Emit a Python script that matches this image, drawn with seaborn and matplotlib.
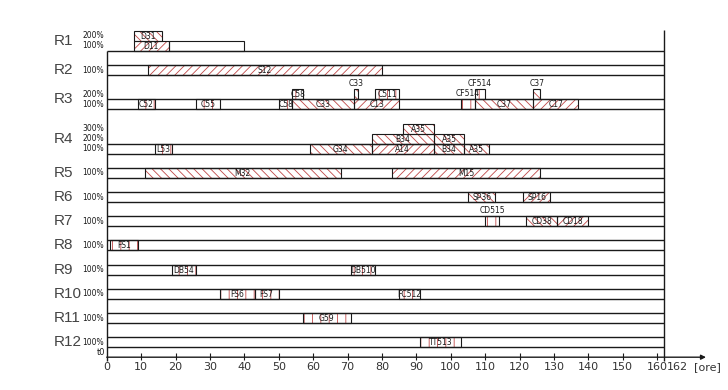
import numpy as np
import pandas as pd
import matplotlib
matplotlib.use("Agg")
import matplotlib.pyplot as plt
import seaborn as sns

# ── data ─────────────────────────────────────────────────────
# resources and how many load levels (100%, 200%, 300%) each one shows
resources = ['R1', 'R2', 'R3', 'R4', 'R5', 'R6',
             'R7', 'R8', 'R9', 'R10', 'R11', 'R12']
resource_levels = [2, 1, 2, 3, 1, 1, 1, 1, 1, 1, 1, 1]

# one entry per activity block
task_names = ['D31', 'D11', '', 'S12',
              'C52', 'C55', 'C58', 'C58', 'C33', 'C33', 'C13', 'C511',
              'CF514', 'CF514', 'C37', 'C37', 'C17',
              'L53', 'G34', 'A14', 'B34', 'A35', 'B34', 'A35', 'A35',
              'M32', 'M15', 'SP36', 'SP16', 'CD515', 'CD38', 'CD18',
              'FS1', 'DB54', 'DB510', 'FS6', 'FS7', 'FC512', 'G59', 'TT513']
task_resource = ['R1', 'R1', 'R1', 'R2',
                 'R3', 'R3', 'R3', 'R3', 'R3', 'R3', 'R3', 'R3',
                 'R3', 'R3', 'R3', 'R3', 'R3',
                 'R4', 'R4', 'R4', 'R4', 'R4', 'R4', 'R4', 'R4',
                 'R5', 'R5', 'R6', 'R6', 'R7', 'R7', 'R7',
                 'R8', 'R9', 'R9', 'R10', 'R10', 'R10', 'R11', 'R12']
task_level = [2, 1, 1, 1,
              1, 1, 1, 2, 1, 2, 1, 2,
              1, 2, 1, 2, 1,
              1, 1, 1, 2, 3, 1, 2, 1,
              1, 1, 1, 1, 1, 1, 1,
              1, 1, 1, 1, 1, 1, 1, 1]
task_start = [8, 8, 18, 12,
              9, 26, 50, 54, 54, 72, 72, 78,
              103, 107, 107, 124, 124,
              14, 59, 77, 77, 86, 95, 95, 104,
              11, 83, 105, 121, 110, 122, 131,
              1, 19, 71, 33, 43, 85, 57, 91]
task_end = [16, 18, 40, 80,
            14, 33, 54, 57, 72, 73, 85, 85,
            107, 110, 124, 126, 137,
            19, 77, 95, 95, 95, 104, 104, 111,
            68, 126, 113, 129, 114, 131, 140,
            9, 26, 78, 43, 50, 91, 71, 103]
# kind of block: 'f' forward hatch, 'b' back hatch, 'v' vertical, 'n' empty
task_kind = ['b', 'f', 'n', 'f',
             'v', 'v', 'v', 'v', 'b', 'b', 'f', 'v',
             'v', 'v', 'b', 'b', 'f',
             'v', 'b', 'f', 'b', 'b', 'b', 'b', 'b',
             'b', 'f', 'b', 'f', 'v', 'b', 'f',
             'v', 'v', 'v', 'v', 'v', 'v', 'v', 'v']
# blocks too narrow for their label: label is written above
label_above = [False, False, False, False,
               False, False, False, False, False, True, False, False,
               True, True, False, True, False,
               False, False, False, False, False, False, False, False,
               False, False, False, False, True, False, False,
               False, False, False, False, False, False, False, False]

x_ticks = list(range(0, 161, 10))
horizon = 162
unit_label = '[ore]'

# ── styling ──────────────────────────────────────────────────
sns.set_theme(style='white')
plt.rcParams['font.family'] = ['Liberation Sans Narrow', 'DejaVu Sans']
plt.rcParams['hatch.linewidth'] = 0.6

HATCH = {'f': '////', 'b': '\\\\\\\\', 'v': '||', 'n': ''}
RED = '#c04848'
INK = '#1a1a1a'

df = pd.DataFrame({'name': task_names, 'res': task_resource,
                   'level': task_level, 'start': task_start,
                   'end': task_end, 'kind': task_kind,
                   'above': label_above})

# vertical layout: row baseline for each resource (axis is inverted)
row_gap = 2.42
base = {}
y = 5.1
for i, (r, n) in enumerate(zip(resources, resource_levels)):
    if i > 0:
        y += row_gap + (n - 1)
    base[r] = y
axis_y = base[resources[-1]] + 1.0

df['y'] = [base[r] - lv + 0.5 for r, lv in zip(df['res'], df['level'])]
df['width'] = df['end'] - df['start']

fig = plt.figure(figsize=(7.28, 3.90), dpi=100)
ax = fig.add_axes([0, 0, 1, 1])
ax.set_xlim(-31.02, 180.6)
ax.set_ylim(39.0, 0)
ax.axis('off')

# band lines of each resource
for i, r in enumerate(resources):
    ax.hlines(base[r], 0, horizon, color=INK, lw=1.0)
    if i > 0:
        ax.hlines(base[r] - 1, 0, horizon, color=INK, lw=1.0)

# blocks: red hatch first, black outline on top
for kind, sub in df.groupby('kind'):
    ax.barh(sub['y'], sub['width'], left=sub['start'], height=1.0,
            fill=False, hatch=HATCH[kind], edgecolor=RED, linewidth=0)
ax.barh(df['y'], df['width'], left=df['start'], height=1.0,
        fill=False, edgecolor=INK, linewidth=0.8)

for _, t in df.iterrows():
    if not t['name']:
        continue
    xc = (t['start'] + t['end']) / 2
    if t['above']:
        ax.text(xc, t['y'] - 0.6, t['name'], ha='center', va='bottom',
                fontsize=5.5, color=INK)
    else:
        ax.text(xc, t['y'] + 0.05, t['name'], ha='center', va='center',
                fontsize=5.5, color=INK)

# row labels and load percentages
for r, n in zip(resources, resource_levels):
    ax.text(-15.3, base[r] - n / 2, r, ha='left', va='center',
            fontsize=11, color='#444444',
            family=['Liberation Sans', 'DejaVu Sans'])
    for lv in range(1, n + 1):
        ax.text(-0.8, base[r] - lv + 0.5, f'{lv}00%', ha='right',
                va='center', fontsize=5.5, color=INK)

# frame: left axis, right limit line, time axis with arrow
ax.vlines(0, base[resources[0]], axis_y + 0.4, color=INK, lw=1.0)
ax.vlines(horizon, 3.0, axis_y + 0.4, color=INK, lw=1.0)
ax.annotate('', xy=(174.2, axis_y), xytext=(0, axis_y),
            arrowprops=dict(arrowstyle='-|>', color=INK, lw=1.0,
                            mutation_scale=7, shrinkA=0, shrinkB=0))
ax.vlines(x_ticks[1:], axis_y - 0.4, axis_y + 0.3, color=INK, lw=0.8)
for xt in x_ticks:
    ax.text(xt, axis_y + 1.0, str(xt), ha='center', va='center',
            fontsize=8, color='#333333')
ax.text(horizon + 0.7, axis_y + 1.0, str(horizon), ha='left', va='center',
        fontsize=8, color='#333333')
ax.text(174.5, axis_y + 1.0, unit_label, ha='center', va='center',
        fontsize=8, color='#333333')
ax.text(-0.4, axis_y - 0.5, 't0', ha='right', va='center',
        fontsize=6, color=INK)

fig.savefig('out.png', dpi=100)
